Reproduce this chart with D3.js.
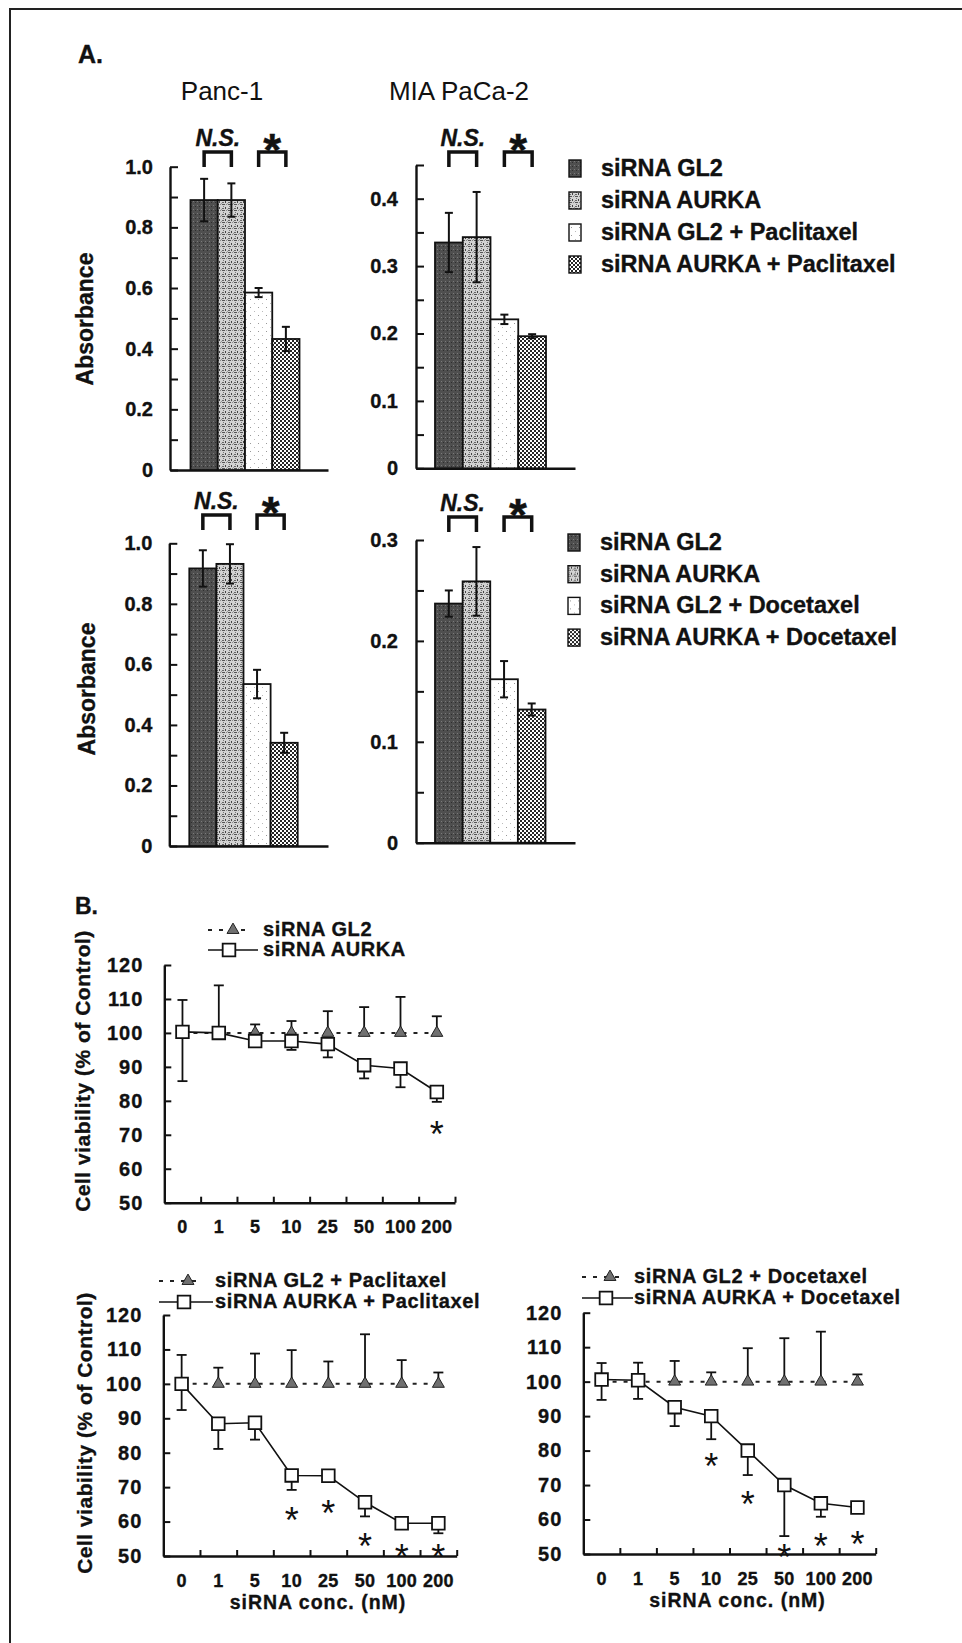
<!DOCTYPE html>
<html>
<head>
<meta charset="utf-8">
<script src="https://cdn.jsdelivr.net/npm/d3@7"></script>
<style>
  body { margin: 0; background: #fff; }
  svg { display: block; font-family: "Liberation Sans", Arial, sans-serif; }
</style>
</head>
<body>
<div id="fig"></div>
<script>
// ---------- data ----------
const barKeys = ["gl2", "aurka", "gl2Drug", "aurkaDrug"];
const pacLegend = ["siRNA GL2", "siRNA AURKA", "siRNA GL2 + Paclitaxel", "siRNA AURKA + Paclitaxel"];
const docLegend = ["siRNA GL2", "siRNA AURKA", "siRNA GL2 + Docetaxel", "siRNA AURKA + Docetaxel"];

const panc1Pac = [0.89, 0.89, 0.585, 0.432];
const panc1PacErr = [0.07, 0.055, 0.015, 0.04];
const miaPac = [0.335, 0.343, 0.221, 0.196];
const miaPacErr = [0.044, 0.067, 0.007, 0.003];
const panc1Doc = [0.917, 0.932, 0.535, 0.341];
const panc1DocErr = [0.06, 0.065, 0.047, 0.033];
const miaDoc = [0.237, 0.259, 0.162, 0.132];
const miaDocErr = [0.013, 0.034, 0.018, 0.006];

const panc1Ticks = [0, 0.2, 0.4, 0.6, 0.8, 1.0];
const panc1TickLabels = ["0", "0.2", "0.4", "0.6", "0.8", "1.0"];
const miaPacTicks = [0, 0.1, 0.2, 0.3, 0.4];
const miaDocTicks = [0, 0.1, 0.2, 0.3];
const miaTickLabels = ["0", "0.1", "0.2", "0.3", "0.4"];

const concs = ["0", "1", "5", "10", "25", "50", "100", "200"];
const viabTicks = [50, 60, 70, 80, 90, 100, 110, 120];

// siRNA alone
const gl2Alone = [100, 100, 100, 100, 100, 100, 100, 100];
const gl2AloneErr = [9.7, 14, 2.5, 3.5, 6.4, 7.6, 10.6, 4.9];
const aurkaAlone = [100.3, 100, 97.6, 97.6, 96.7, 90.5, 89.5, 82.6];
const aurkaAloneErr = [14.5, 0.5, 1.5, 2.6, 3.9, 3.9, 5.5, 2.9];
const starsAlone = [null, null, null, null, null, null, null, 72.9];

// siRNA + paclitaxel
const gl2Pac = [100, 100, 100, 100, 100, 100, 100, 100];
const gl2PacErr = [8.4, 4.7, 8.8, 9.8, 6.5, 14.4, 6.9, 3.3];
const aurkaPac = [100, 88.4, 88.7, 73.4, 73.3, 65.6, 59.5, 59.5];
const aurkaPacErr = [7.6, 7.3, 4.9, 4.2, 0.8, 4.1, 0.8, 2.9];
const starsPac = [null, null, null, 62.9, 64.9, 55.4, 52.2, 52.2];

// siRNA + docetaxel
const gl2Doc = [100, 100, 100, 100, 100, 100, 100, 100];
const gl2DocErr = [5.4, 5.5, 6, 2.7, 9.7, 12.6, 14.5, 2.1];
const aurkaDoc = [100.6, 100.4, 92.6, 90, 80, 70, 64.7, 63.5];
const aurkaDocErr = [5.9, 5.4, 5.5, 6.7, 7.1, 14.8, 3.9, 0.5];
const starsDoc = [null, null, null, 78, 67.1, 51.6, 54.8, 55.5];

// ---------- svg ----------
const W = 962, H = 1643;
let svg = d3.select("#fig").append("svg").attr("width", W).attr("height", H);
svg.append("rect").attr("width", W).attr("height", H).attr("fill", "#fff");

let defs = svg.append("defs");
function pattern(id, size, bg, marks) {
  let p = defs.append("pattern").attr("id", id)
      .attr("width", size).attr("height", size)
      .attr("patternUnits", "userSpaceOnUse");
  p.append("rect").attr("width", size).attr("height", size).attr("fill", bg);
  marks.forEach(m => p.append("rect")
      .attr("x", m[0]).attr("y", m[1]).attr("width", m[2]).attr("height", m[3])
      .attr("fill", m[4]));
}
pattern("fGL2", 4, "#4f4f4f", [[1, 1, 1, 1, "#7a7a7a"], [3, 2, 1, 1, "#2e2e2e"]]);
pattern("fAURKA", 6, "#d2d2d2", [[0, 0, 3, 1, "#555"], [3, 3, 1, 2, "#444"], [1, 2, 1, 1, "#777"],
                                 [4, 0, 1, 1, "#888"], [0, 4, 2, 1, "#666"], [5, 5, 1, 1, "#999"]]);
pattern("fGL2d", 8, "#fff", [[2, 3, 1, 1, "#999"], [6, 7, 1, 1, "#bbb"]]);
pattern("fAURKAd", 4, "#fff", [[0, 0, 2, 2, "#262626"], [2, 2, 2, 2, "#262626"]]);
const fills = ["fGL2", "fAURKA", "fGL2d", "fAURKAd"];

// frame
svg.append("path").attr("d", "M10,1643V9H962")
  .attr("fill", "none").attr("stroke", "#222").attr("stroke-width", 2);

// bold scanned-looking text
function heavy(sel) {
  return sel.attr("font-weight", "bold").attr("fill", "#111")
    .attr("stroke", "#111").attr("stroke-width", 0.35);
}

// panel letters
heavy(svg.append("text").attr("x", 78).attr("y", 63).attr("font-size", 25)).text("A.");
heavy(svg.append("text").attr("x", 75).attr("y", 914).attr("font-size", 23)).text("B.");

function styleAxis(g, w) {
  g.select(".domain").attr("stroke", "#111").attr("stroke-width", w);
  g.selectAll(".tick line").attr("stroke", "#111").attr("stroke-width", 2);
}

// ---------- bar panels (A) ----------
function barPanel(o) {
  let g = svg.append("g");
  let y = d3.scaleLinear().domain([0, o.max]).range([o.y0, o.yTop]);
  let x = d3.scaleBand().domain(barKeys).range(o.bars);
  let bw = x.bandwidth();

  // minor + major ticks (inward)
  let ax = g.append("g").attr("transform", `translate(${o.x},0)`)
    .call(d3.axisLeft(y).tickValues(d3.range(0, o.max + 1e-9, o.minor))
      .tickSizeInner(-8).tickSizeOuter(0).tickFormat(""));
  styleAxis(ax, 2.4);
  let lab = g.append("g").attr("transform", `translate(${o.x},0)`)
    .call(d3.axisLeft(y).tickValues(o.ticks).tickSize(0).tickPadding(o.pad)
      .tickFormat((d, i) => o.labels[i]));
  lab.select(".domain").remove();
  heavy(lab.selectAll("text").attr("font-size", 20).attr("font-family", null));

  let xa = g.append("g").attr("transform", `translate(0,${o.y0})`)
    .call(d3.axisBottom(d3.scaleLinear().range([o.x, o.xEnd])).tickValues([]).tickSizeOuter(0));
  styleAxis(xa, 2.4);

  // bars
  g.selectAll("rect.bar").data(o.values).join("rect").attr("class", "bar")
    .attr("x", (d, i) => x(barKeys[i])).attr("y", d => y(d))
    .attr("width", bw).attr("height", d => y(0) - y(d))
    .attr("fill", (d, i) => `url(#${fills[i]})`)
    .attr("stroke", "#111").attr("stroke-width", 1.8);

  // error bars
  let eb = g.selectAll("g.err").data(o.values).join("g").attr("class", "err")
    .attr("stroke", "#111").attr("stroke-width", 2);
  eb.append("line")
    .attr("x1", (d, i) => x(barKeys[i]) + bw / 2).attr("x2", (d, i) => x(barKeys[i]) + bw / 2)
    .attr("y1", (d, i) => y(d + o.err[i])).attr("y2", (d, i) => y(d - o.err[i]));
  [1, -1].forEach(s => eb.append("line")
    .attr("x1", (d, i) => x(barKeys[i]) + bw / 2 - 4).attr("x2", (d, i) => x(barKeys[i]) + bw / 2 + 4)
    .attr("y1", (d, i) => y(d + s * o.err[i])).attr("y2", (d, i) => y(d + s * o.err[i])));

  // significance brackets
  let pairs = [[0, 1, "N.S."], [2, 3, "*"]];
  pairs.forEach(p => {
    let xa = x(barKeys[p[0]]) + bw / 2, xb = x(barKeys[p[1]]) + bw / 2;
    g.append("path").attr("d", `M${xa},${o.br + 15}V${o.br}H${xb}V${o.br + 15}`)
      .attr("fill", "none").attr("stroke", "#111").attr("stroke-width", 3.5);
    let t = heavy(g.append("text").attr("x", (xa + xb) / 2).attr("text-anchor", "middle")).text(p[2]);
    if (p[2] === "*") t.attr("y", o.br - 14).attr("dy", "0.6em").attr("font-size", 46);
    else t.attr("y", o.br - 6).attr("font-size", 23).attr("font-style", "italic");
  });

  if (o.title) {
    g.append("text").attr("x", o.titleX).attr("y", 100).attr("text-anchor", "middle")
      .attr("font-size", 26).attr("fill", "#111").text(o.title);
  }
  if (o.ylabel) {
    heavy(g.append("text").attr("transform", `translate(${o.ylabelX},${o.ylabelY}) rotate(-90)`)
      .attr("text-anchor", "middle").attr("dy", "0.35em").attr("font-size", 23)).text("Absorbance");
  }
  if (o.legend) {
    let lg = g.selectAll("g.leg").data(o.legend).join("g").attr("class", "leg")
      .attr("transform", (d, i) => `translate(${o.legX},${o.legY + i * o.legStep})`);
    lg.append("rect").attr("x", 0).attr("y", -16).attr("width", 12).attr("height", 17)
      .attr("fill", (d, i) => `url(#${fills[i]})`).attr("stroke", "#111").attr("stroke-width", 1.4);
    heavy(lg.append("text").attr("x", 32).attr("font-size", 23.5)).text(d => d);
  }
}

barPanel({ x: 170, y0: 470, yTop: 166.7, max: 1.0, minor: 0.1, ticks: panc1Ticks,
  labels: panc1TickLabels, pad: 17,
  bars: [190.5, 299.5], xEnd: 328, values: panc1Pac, err: panc1PacErr, br: 152,
  title: "Panc-1", titleX: 222, ylabel: true, ylabelX: 85, ylabelY: 319 });
barPanel({ x: 416, y0: 468.3, yTop: 165, max: 0.45, minor: 0.05, ticks: miaPacTicks,
  labels: miaTickLabels, pad: 18,
  bars: [435, 546], xEnd: 575, values: miaPac, err: miaPacErr, br: 152,
  title: "MIA PaCa-2", titleX: 459,
  legend: pacLegend, legX: 569, legY: 176, legStep: 32 });
barPanel({ x: 169.3, y0: 846, yTop: 543.3, max: 1.0, minor: 0.1, ticks: panc1Ticks,
  labels: panc1TickLabels, pad: 17,
  bars: [189.3, 297.7], xEnd: 328, values: panc1Doc, err: panc1DocErr, br: 515,
  ylabel: true, ylabelX: 87, ylabelY: 689 });
barPanel({ x: 416, y0: 842.7, yTop: 540, max: 0.3, minor: 0.05, ticks: miaDocTicks,
  labels: miaTickLabels, pad: 18,
  bars: [435, 545.5], xEnd: 575, values: miaDoc, err: miaDocErr, br: 517,
  legend: docLegend, legX: 568, legY: 550, legStep: 31.7 });

// ---------- line panels (B) ----------
let tri = d3.symbol().type(d3.symbolTriangle).size(62);
let sq = d3.symbol().type(d3.symbolSquare).size(160);

function linePanel(o) {
  let g = svg.append("g");
  let x = d3.scaleBand().domain(concs).range([o.x0, o.x1]);
  let cx = c => x(c) + x.bandwidth() / 2;
  let y = d3.scaleLinear().domain([50, 120]).range([o.y50, o.y120]);

  let ya = g.append("g").attr("transform", `translate(${o.x0},0)`)
    .call(d3.axisLeft(y).tickValues(viabTicks).tickSizeInner(-7).tickSizeOuter(0).tickPadding(21));
  styleAxis(ya, 2.4);
  heavy(ya.selectAll("text").attr("font-size", 20).attr("font-family", null).attr("letter-spacing", 1));

  // x ticks at category boundaries
  let xb = g.append("g").attr("transform", `translate(0,${o.y50})`)
    .call(d3.axisBottom(d3.scaleLinear().domain([0, concs.length]).range([o.x0, o.x1]))
      .tickValues(d3.range(1, concs.length + 1)).tickSizeInner(-6).tickSizeOuter(0).tickFormat(""));
  styleAxis(xb, 2.4);
  let xl = g.append("g").attr("transform", `translate(0,${o.y50})`)
    .call(d3.axisBottom(x).tickSize(0).tickPadding(18));
  xl.select(".domain").remove();
  heavy(xl.selectAll("text").attr("font-size", 18).attr("font-family", null).attr("letter-spacing", 0.3));

  // error bars: GL2 upward, AURKA downward
  function errs(vals, es, dir) {
    concs.forEach((c, i) => {
      let y1 = y(vals[i]), y2 = y(vals[i] + dir * es[i]);
      g.append("line").attr("x1", cx(c)).attr("x2", cx(c)).attr("y1", y1).attr("y2", y2)
        .attr("stroke", "#111").attr("stroke-width", 1.8);
      g.append("line").attr("x1", cx(c) - 5).attr("x2", cx(c) + 5).attr("y1", y2).attr("y2", y2)
        .attr("stroke", "#111").attr("stroke-width", 1.8);
    });
  }
  errs(o.gl2, o.gl2Err, 1);
  errs(o.aurka, o.aurkaErr, -1);

  let line = d3.line().x((d, i) => cx(concs[i])).y(d => y(d));
  g.append("path").datum(o.gl2).attr("d", line).attr("fill", "none")
    .attr("stroke", "#222").attr("stroke-width", 2).attr("stroke-dasharray", "4,7");
  g.append("path").datum(o.aurka).attr("d", line).attr("fill", "none")
    .attr("stroke", "#111").attr("stroke-width", 1.6);

  g.selectAll("path.tri").data(o.gl2).join("path").attr("class", "tri")
    .attr("d", tri).attr("transform", (d, i) => `translate(${cx(concs[i])},${y(d)})`)
    .attr("fill", "#707070").attr("stroke", "#222").attr("stroke-width", 1);
  g.selectAll("path.sq").data(o.aurka).join("path").attr("class", "sq")
    .attr("d", sq).attr("transform", (d, i) => `translate(${cx(concs[i])},${y(d)})`)
    .attr("fill", "#fff").attr("stroke", "#111").attr("stroke-width", 1.8);

  // significance stars
  concs.forEach((c, i) => {
    if (o.stars[i] == null) return;
    g.append("text").attr("x", cx(c)).attr("y", y(o.stars[i])).attr("dy", "0.6em")
      .attr("text-anchor", "middle").attr("font-size", 36).attr("fill", "#111").text("*");
  });

  // legend
  let L = o.leg;
  g.append("line").attr("x1", L.x0).attr("x2", L.x1a).attr("y1", L.y1).attr("y2", L.y1)
    .attr("stroke", "#222").attr("stroke-width", 2).attr("stroke-dasharray", "4,7");
  g.append("path").attr("d", tri).attr("transform", `translate(${L.mx + 4},${L.y1})`)
    .attr("fill", "#707070").attr("stroke", "#222").attr("stroke-width", 1);
  g.append("line").attr("x1", L.x0).attr("x2", L.x1b).attr("y1", L.y2).attr("y2", L.y2)
    .attr("stroke", "#111").attr("stroke-width", 1.6);
  g.append("path").attr("d", sq).attr("transform", `translate(${L.mx},${L.y2})`)
    .attr("fill", "#fff").attr("stroke", "#111").attr("stroke-width", 1.8);
  [o.names[0], o.names[1]].forEach((t, i) => {
    heavy(g.append("text").attr("x", L.tx).attr("y", (i ? L.y2 : L.y1) + 6)
      .attr("font-size", 20).attr("letter-spacing", 0.6)).text(t);
  });

  if (o.ylabel) {
    heavy(g.append("text").attr("transform", `translate(${o.ylabelX},${o.ylabelY}) rotate(-90)`)
      .attr("text-anchor", "middle").attr("dy", "0.35em").attr("font-size", 21)
      .attr("letter-spacing", 0.5)).text("Cell viability (% of Control)");
  }
  if (o.xlabel) {
    heavy(g.append("text").attr("x", (o.x0 + o.x1) / 2 + 8).attr("y", o.y50 + 53)
      .attr("text-anchor", "middle").attr("font-size", 19.5)
      .attr("letter-spacing", 1)).text("siRNA conc. (nM)");
  }
}

linePanel({ x0: 164.3, x1: 455, y50: 1202.7, y120: 965,
  gl2: gl2Alone, gl2Err: gl2AloneErr, aurka: aurkaAlone, aurkaErr: aurkaAloneErr, stars: starsAlone,
  names: ["siRNA GL2", "siRNA AURKA"],
  leg: { x0: 208, x1a: 251, x1b: 258, mx: 229, y1: 930, y2: 950, tx: 263 },
  ylabel: true, ylabelX: 83, ylabelY: 1071 });
linePanel({ x0: 163.3, x1: 456.7, y50: 1556, y120: 1315,
  gl2: gl2Pac, gl2Err: gl2PacErr, aurka: aurkaPac, aurkaErr: aurkaPacErr, stars: starsPac,
  names: ["siRNA GL2 + Paclitaxel", "siRNA AURKA + Paclitaxel"],
  leg: { x0: 159, x1a: 202, x1b: 213, mx: 184, y1: 1281, y2: 1302, tx: 215 },
  ylabel: true, ylabelX: 85, ylabelY: 1433, xlabel: true });
linePanel({ x0: 583.3, x1: 875.7, y50: 1554, y120: 1312.7,
  gl2: gl2Doc, gl2Err: gl2DocErr, aurka: aurkaDoc, aurkaErr: aurkaDocErr, stars: starsDoc,
  names: ["siRNA GL2 + Docetaxel", "siRNA AURKA + Docetaxel"],
  leg: { x0: 582, x1a: 623, x1b: 633, mx: 606, y1: 1277, y2: 1298, tx: 634 },
  xlabel: true });
</script>
</body>
</html>
